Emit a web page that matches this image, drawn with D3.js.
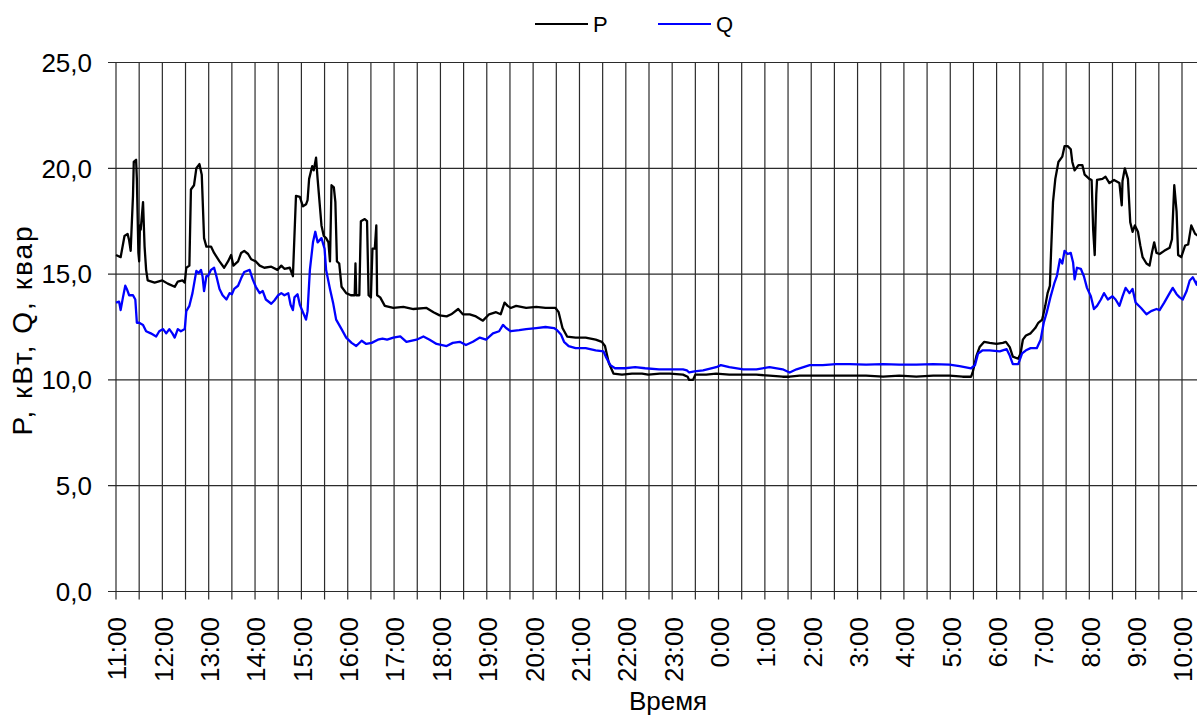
<!DOCTYPE html>
<html>
<head>
<meta charset="utf-8">
<script src="https://cdn.jsdelivr.net/npm/d3@7"></script>
<style>
  html, body { margin: 0; padding: 0; background: #fff; }
  svg { display: block; }
  text { font-family: "Liberation Sans", Arial, sans-serif; fill: #000; }
</style>
</head>
<body>
<svg id="chart" width="1197" height="715"></svg>
<script>
// ---- data (minutes after 11:00) ----
const startHour = 11;
const hourLabels = ["11:00","12:00","13:00","14:00","15:00","16:00","17:00","18:00","19:00","20:00","21:00","22:00","23:00","0:00","1:00","2:00","3:00","4:00","5:00","6:00","7:00","8:00","9:00","10:00"];
const yTicks = [0, 5, 10, 15, 20, 25];
const seriesNames = ["P", "Q"];

const pMinutes = [0,6,11,15,17,19,20,22,23,26,27,29,30,31,32,35,37,39,41,50,60,67,76,80,86,89,91,95,97,101,104,108,111,114,117,123,127,134,140,145,149,152,158,162,166,171,175,181,186,192,201,209,214,218,225,229,233,238,242,246,248,250,254,256,259,261,266,269,272,275,277,279,282,284,286,289,292,298,304,309,310,311,315,317,322,325,327,330,332,335,337,338,342,348,359,372,385,402,411,419,428,434,443,449,458,466,475,483,492,498,503,507,511,518,531,544,556,569,573,578,584,595,608,621,629,633,638,644,655,668,681,689,704,717,734,740,742,747,750,764,777,794,812,829,846,863,872,885,906,928,950,971,993,1014,1036,1058,1079,1096,1107,1109,1114,1118,1124,1131,1140,1148,1152,1157,1161,1168,1171,1174,1178,1184,1190,1194,1199,1203,1206,1209,1210,1213,1216,1220,1225,1228,1232,1236,1238,1241,1246,1251,1254,1260,1263,1265,1267,1269,1270,1277,1281,1286,1292,1299,1302,1303,1306,1310,1313,1316,1319,1323,1326,1329,1334,1338,1341,1344,1347,1351,1357,1364,1367,1370,1373,1375,1379,1384,1388,1392,1397,1401];
const pValues = [15.9,15.8,16.8,16.9,16.6,16.1,17.0,18.7,20.3,20.4,19.5,16.0,15.6,17.3,17.1,18.4,16.3,15.2,14.7,14.6,14.7,14.55,14.4,14.65,14.7,14.6,15.3,15.4,19.0,19.2,20.0,20.2,19.7,16.7,16.3,16.3,16.0,15.6,15.3,15.6,15.9,15.4,15.6,16.0,16.1,15.95,15.7,15.6,15.4,15.3,15.35,15.2,15.4,15.25,15.3,14.9,18.7,18.65,18.2,18.3,18.5,19.5,20.1,19.9,20.5,19.5,17.3,16.8,16.7,16.5,15.6,19.2,19.1,18.4,15.6,15.5,14.4,14.1,14.0,14.0,15.5,14.0,14.0,17.5,17.6,17.5,14.0,13.9,16.2,16.2,17.3,14.0,13.9,13.5,13.4,13.45,13.35,13.4,13.2,13.05,13.0,13.1,13.35,13.1,13.1,13.0,12.8,13.1,13.2,13.1,13.65,13.5,13.4,13.5,13.4,13.45,13.4,13.4,13.2,12.45,12.05,12.0,12.0,11.9,11.8,11.6,10.8,10.3,10.25,10.3,10.3,10.25,10.3,10.3,10.25,10.15,10.0,10.0,10.25,10.25,10.3,10.25,10.25,10.25,10.2,10.15,10.15,10.2,10.2,10.2,10.2,10.2,10.15,10.2,10.15,10.2,10.2,10.15,10.15,10.35,11.15,11.55,11.8,11.75,11.7,11.75,11.8,11.55,11.1,11.0,11.25,11.9,12.1,12.2,12.45,12.7,12.85,13.5,14.1,14.45,15.55,18.4,19.5,20.3,20.55,21.05,21.05,20.9,20.3,19.9,20.15,20.15,19.7,19.5,19.45,17.1,15.9,18.75,19.45,19.5,19.6,19.3,19.45,19.3,18.25,19.4,20.0,19.5,17.45,17.0,17.3,17.0,16.35,15.8,15.5,15.4,16.0,16.5,16.0,15.95,16.1,16.25,16.65,19.2,17.95,15.9,15.8,16.35,16.4,17.3,16.9,16.8];

const qMinutes = [0,4,6,9,12,14,17,22,25,27,30,35,39,45,52,56,61,65,69,73,76,80,84,89,91,95,99,104,107,110,112,114,117,119,123,127,130,134,138,143,147,150,153,158,162,166,173,177,181,186,190,194,201,205,210,214,218,223,226,229,231,235,238,242,246,248,251,255,258,261,266,270,272,277,281,285,292,298,305,311,318,324,331,339,345,351,359,368,376,389,398,406,415,428,436,445,453,462,471,479,488,496,501,505,511,522,531,544,556,567,571,576,580,586,595,608,621,631,634,640,646,659,672,685,703,717,734,739,742,749,760,777,783,794,812,829,846,863,872,881,898,915,932,950,971,993,1014,1036,1058,1079,1092,1107,1112,1116,1122,1131,1144,1153,1157,1161,1168,1173,1178,1184,1192,1197,1201,1205,1210,1215,1218,1222,1225,1228,1232,1236,1239,1241,1244,1249,1253,1257,1262,1266,1270,1275,1279,1284,1290,1294,1299,1303,1307,1312,1316,1320,1327,1334,1340,1347,1351,1357,1364,1368,1373,1377,1381,1386,1390,1394,1399,1401];
const qValues = [13.65,13.7,13.3,13.9,14.45,14.3,14.0,14.0,13.8,12.7,12.7,12.6,12.3,12.2,12.05,12.3,12.4,12.2,12.4,12.2,12.0,12.4,12.3,12.4,13.25,13.5,14.1,15.15,15.05,15.2,14.9,14.2,14.9,14.9,15.2,15.3,14.9,14.3,14.0,13.8,14.1,14.05,14.3,14.45,14.8,15.1,15.2,14.75,14.4,14.1,14.2,13.8,13.6,13.75,14.0,14.1,14.0,14.1,13.55,13.3,13.9,14.05,13.55,13.2,12.85,13.25,15.2,16.5,17.0,16.5,16.7,16.2,15.2,14.3,13.65,12.85,12.4,12.0,11.75,11.6,11.85,11.7,11.75,11.9,11.95,11.9,12.0,12.06,11.8,11.9,12.05,11.9,11.7,11.6,11.75,11.8,11.65,11.8,12.0,11.9,12.2,12.3,12.6,12.45,12.3,12.35,12.4,12.45,12.5,12.45,12.35,12.15,11.8,11.6,11.5,11.5,11.4,11.35,11.1,10.7,10.55,10.55,10.6,10.55,10.5,10.5,10.5,10.45,10.35,10.4,10.45,10.6,10.7,10.6,10.5,10.5,10.6,10.5,10.35,10.5,10.7,10.7,10.75,10.75,10.72,10.75,10.72,10.72,10.75,10.72,10.65,10.55,10.7,11.25,11.4,11.4,11.35,11.45,11.15,10.75,10.75,11.25,11.4,11.5,11.5,11.9,12.7,13.2,13.95,14.6,14.9,15.7,15.5,16.1,15.95,16.0,15.55,14.75,15.3,15.25,14.9,14.35,13.95,13.35,13.5,13.8,14.1,13.8,13.95,13.8,13.5,13.95,14.35,14.1,14.3,13.65,13.4,13.1,13.25,13.35,13.3,13.65,14.1,14.35,14.05,13.9,13.8,14.2,14.7,14.85,14.5,14.75];

// ---- layout ----
const W = 1197, H = 715;
const plotLeft = 116, plotTop = 62.5, plotBottom = 591.5;
const svg = d3.select("#chart");
svg.append("rect").attr("width", W).attr("height", H).attr("fill", "#fff");

const x = d3.scaleLinear().domain([0, 1380]).range([plotLeft, 1182]);
const y = d3.scaleLinear().domain([0, 25]).range([plotBottom, plotTop]);

const gridColor = "#2b2b2b";

// horizontal gridlines + y tick labels
const gy = svg.append("g");
yTicks.forEach(v => {
  gy.append("line")
    .attr("x1", plotLeft - 8).attr("x2", W)
    .attr("y1", y(v)).attr("y2", y(v))
    .attr("stroke", gridColor).attr("stroke-width", 1.2);
  gy.append("text")
    .attr("x", 92).attr("y", y(v)).attr("dy", "0.36em")
    .attr("text-anchor", "end")
    .style("font-size", "26px")
    .text(d3.format(".1f")(v).replace(".", ","));
});

// vertical gridlines every 30 min
const gx = svg.append("g");
const halfHours = d3.range(0, 1381, 30);
halfHours.forEach(m => {
  gx.append("line")
    .attr("x1", x(m)).attr("x2", x(m))
    .attr("y1", plotTop).attr("y2", plotBottom + 8)
    .attr("stroke", gridColor).attr("stroke-width", 1.2);
});
hourLabels.forEach((lab, i) => {
  gx.append("text")
    .attr("transform", `translate(${x(i * 60) + 1},617) rotate(-90)`)
    .attr("dy", "0.36em")
    .attr("text-anchor", "end")
    .style("font-size", "26px")
    .text(lab);
});

// series lines
const line = d3.line().x(d => x(d[0])).y(d => y(d[1]));
const pData = pMinutes.map((m, i) => [m, pValues[i]]);
const qData = qMinutes.map((m, i) => [m, qValues[i]]);
svg.append("path").datum(pData).attr("d", line)
  .attr("fill", "none").attr("stroke", "#000").attr("stroke-width", 2.3).attr("stroke-linejoin", "round");
svg.append("path").datum(qData).attr("d", line)
  .attr("fill", "none").attr("stroke", "#0000ff").attr("stroke-width", 2.3).attr("stroke-linejoin", "round");

// legend
const legend = [{name: seriesNames[0], color: "#000", x0: 535}, {name: seriesNames[1], color: "#0000ff", x0: 658}];
legend.forEach(l => {
  svg.append("line").attr("x1", l.x0).attr("x2", l.x0 + 53).attr("y1", 24).attr("y2", 24)
    .attr("stroke", l.color).attr("stroke-width", 2.2);
  svg.append("text").attr("x", l.x0 + 58).attr("y", 24).attr("dy", "0.36em")
    .style("font-size", "22px").text(l.name);
});

// axis titles
svg.append("text").attr("x", 668).attr("y", 710).attr("text-anchor", "middle")
  .style("font-size", "26px").text("Время");
svg.append("text").attr("transform", "translate(22,330) rotate(-90)")
  .attr("dy", "0.36em").attr("text-anchor", "middle")
  .style("font-size", "28px").style("letter-spacing", "2px")
  .text("P, кВт, Q, квар");
</script>
</body>
</html>
